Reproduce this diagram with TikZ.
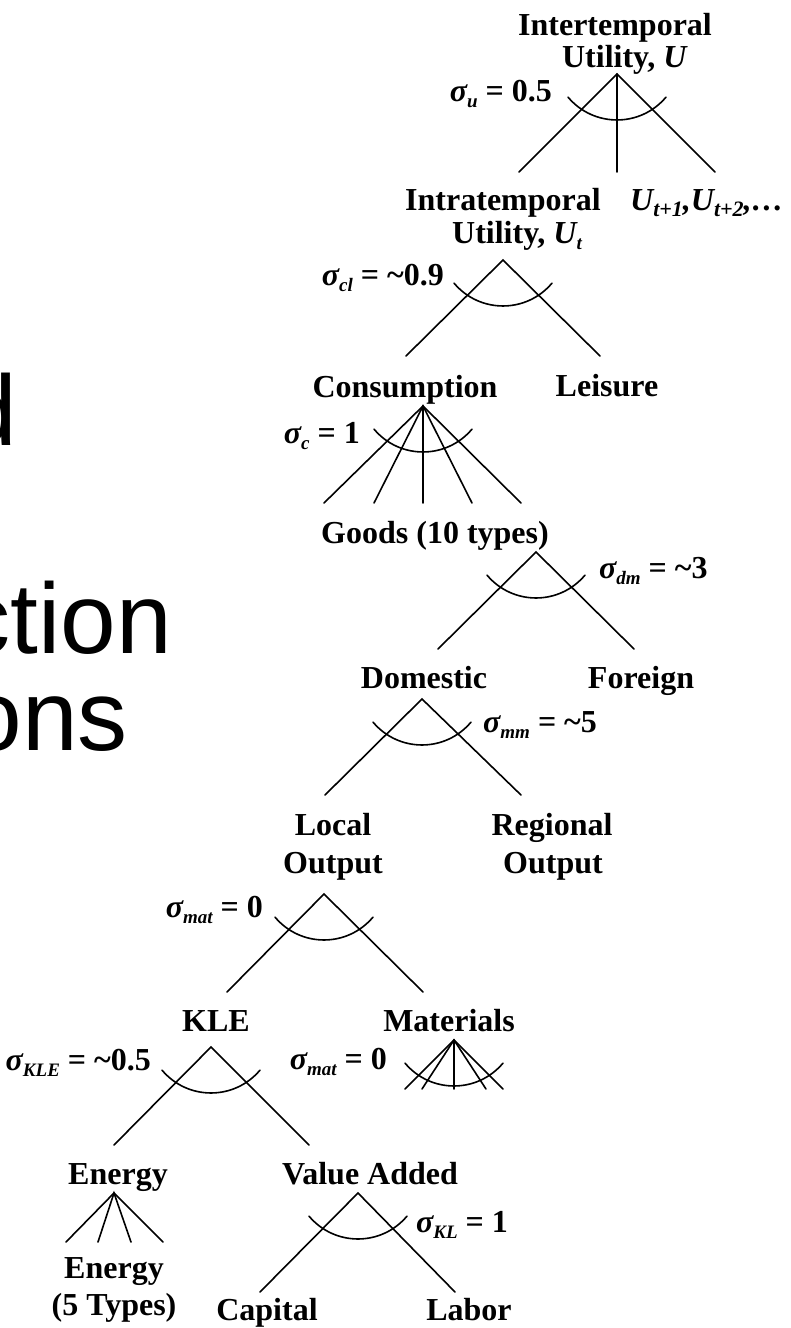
\documentclass[tikz,border=0pt]{standalone}
\usepackage{fontspec}
\setmainfont{Liberation Serif}
\newfontfamily\bigsans{Liberation Sans}
\newcommand\sbs[1]{\raisebox{-0.2em}{\fontsize{19}{19}\selectfont #1}}
\newcommand\sbl[1]{\raisebox{-0.2em}{\fontsize{22}{22}\selectfont #1}}
\newcommand\sig[1]{\textit{σ\sbs{#1}}}
\newcommand\elast[1]{\draw[leg] ([shift={(-49,23.1)}]#1) .. controls +(25.6,30.5) and +(-25.6,30.5) .. ([shift={(49,23.1)}]#1);}
\tikzset{
  lbl/.style={font=\fontsize{32}{33}\selectfont\bfseries, inner sep=0pt, anchor=base},
  sg/.style={font=\fontsize{32}{33}\selectfont\bfseries, inner sep=0pt},
  leg/.style={line width=1.6pt, line cap=round},
  big/.style={font=\fontsize{100}{100}\selectfont\bigsans, inner sep=0pt, anchor=base east},
}
\begin{document}
\begin{tikzpicture}[x=1pt,y=-1pt]
\useasboundingbox (0,0) rectangle (791,1328);
\clip (0,0) rectangle (791,1328);
\fill[white] (0,0) rectangle (791,1328);

% cut-off slide title
\node[big] (bd) at (17,445) {d};
\node[big] (bction) at (172,653) {ction};
\node[big] (bons) at (128,750) {ons};

% labels
\node[lbl] (inter1) at (615,35) {Intertemporal};
\node[lbl] (inter2) at (625,67) {Utility, \textit{U}};
\node[lbl] (intra1) at (503,210) {Intratemporal};
\node[lbl] (intra2) at (517,243) {Utility, \textit{U\sbs{t}}};
\node[lbl,anchor=base west] (future) at (630,210) {\textit{U\sbl{t+1},U\sbl{t+2},…}};
\node[lbl] (cons) at (405,397) {Consumption};
\node[lbl] (leis) at (607,396) {Leisure};
\node[lbl] (goods) at (435,543) {Goods (10 types)};
\node[lbl] (dom) at (424,688) {Domestic};
\node[lbl] (for) at (641,688) {Foreign};
\node[lbl] (loc1) at (333,835) {Local};
\node[lbl] (loc2) at (333,873) {Output};
\node[lbl] (reg1) at (552,835) {Regional};
\node[lbl] (reg2) at (553,873) {Output};
\node[lbl] (kle) at (216,1031) {KLE};
\node[lbl] (mat) at (449,1031) {Materials};
\node[lbl] (energy) at (118,1184) {Energy};
\node[lbl] (va) at (370,1184) {Value Added};
\node[lbl] (en1) at (114,1278) {Energy};
\node[lbl] (en2) at (114,1315) {(5 Types)};
\node[lbl] (cap) at (267,1320) {Capital};
\node[lbl] (lab) at (469,1320) {Labor};

% elasticities
\node[sg,anchor=base east] (su) at (552,101) {\sig{u} = 0.5};
\node[sg,anchor=base east] (scl) at (444,285) {\sig{cl} = \textasciitilde0.9};
\node[sg,anchor=base east] (sc) at (360,443) {\sig{c} = 1};
\node[sg,anchor=base west] (sdm) at (599,578) {\sig{dm} = \textasciitilde3};
\node[sg,anchor=base west] (smm) at (483,732) {\sig{mm} = \textasciitilde5};
\node[sg,anchor=base east] (smatA) at (263,917) {\sig{mat} = 0};
\node[sg,anchor=base east] (skle) at (151,1070) {\sig{KLE} = \textasciitilde0.5};
\node[sg,anchor=base east] (smatB) at (387,1069) {\sig{mat} = 0};
\node[sg,anchor=base west] (skl) at (416,1232) {\sig{KL} = 1};

% apexes and leg ends
\coordinate (a1) at (617,74);
\coordinate (a1l) at (519,172); \coordinate (a1m) at (617,172); \coordinate (a1r) at (715,172);
\coordinate (a2) at (503,260);
\coordinate (a2l) at (406,356); \coordinate (a2r) at (600,356);
\coordinate (a3) at (423,406);
\coordinate (a3a) at (324,503); \coordinate (a3b) at (374,503); \coordinate (a3c) at (423,503);
\coordinate (a3d) at (472,503); \coordinate (a3e) at (521,503);
\coordinate (a4) at (536,552);
\coordinate (a4l) at (438,649); \coordinate (a4r) at (634,649);
\coordinate (a5) at (422,699);
\coordinate (a5l) at (325,795); \coordinate (a5r) at (521,795);
\coordinate (a6) at (324,894);
\coordinate (a6l) at (227,992); \coordinate (a6r) at (423,992);
\coordinate (a7) at (211,1047);
\coordinate (a7l) at (114,1145); \coordinate (a7r) at (309,1145);
\coordinate (a8) at (358,1193);
\coordinate (a8l) at (260,1292); \coordinate (a8r) at (455,1292);
\coordinate (ae) at (114,1193);
\coordinate (aea) at (66,1242); \coordinate (aeb) at (98,1242);
\coordinate (aec) at (131,1242); \coordinate (aed) at (163,1242);
\coordinate (am) at (454,1040);
\coordinate (ama) at (405,1089); \coordinate (amb) at (422,1089); \coordinate (amc) at (454,1089);
\coordinate (amd) at (486,1089); \coordinate (ame) at (503,1089);

% legs
\draw[leg] (a1l) -- (a1) -- (a1r); \draw[leg] (a1) -- (a1m);
\draw[leg] (a2l) -- (a2) -- (a2r);
\draw[leg] (a3a) -- (a3) -- (a3e); \draw[leg] (a3b) -- (a3) -- (a3d); \draw[leg] (a3) -- (a3c);
\draw[leg] (a4l) -- (a4) -- (a4r);
\draw[leg] (a5l) -- (a5) -- (a5r);
\draw[leg] (a6l) -- (a6) -- (a6r);
\draw[leg] (a7l) -- (a7) -- (a7r);
\draw[leg] (a8l) -- (a8) -- (a8r);
\draw[leg] (aea) -- (ae) -- (aed); \draw[leg] (aeb) -- (ae) -- (aec);
\draw[leg] (ama) -- (am) -- (ame); \draw[leg] (amb) -- (am) -- (amd); \draw[leg] (am) -- (amc);

% substitution arcs
\elast{a1} \elast{a2} \elast{a3} \elast{a4} \elast{a5} \elast{a6} \elast{a7} \elast{a8} \elast{am}
\end{tikzpicture}
\end{document}
